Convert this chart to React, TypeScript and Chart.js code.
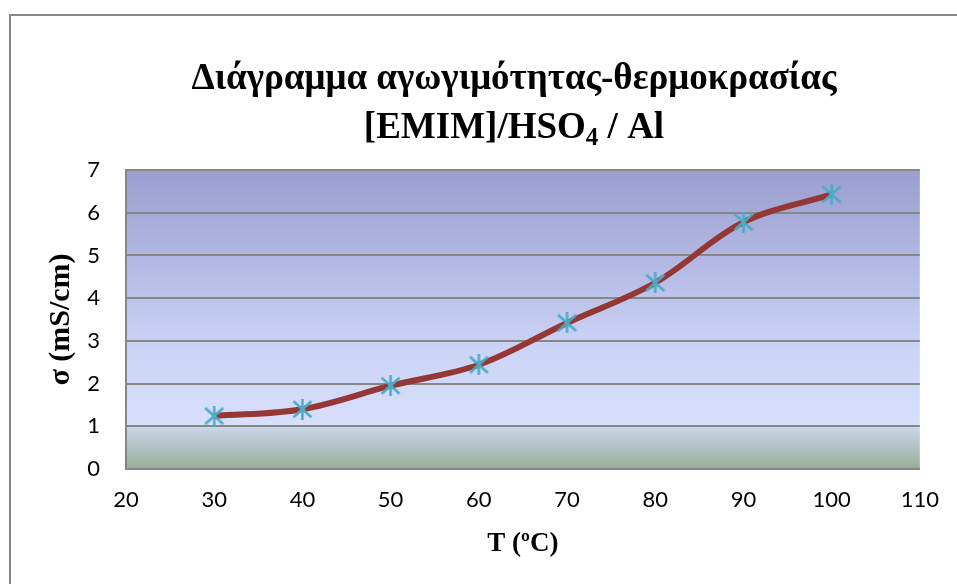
import React, { useEffect, useRef } from "react";
import { Chart, registerables } from "chart.js";

Chart.register(...registerables);

// Temperature (°C) and conductivity σ (mS/cm)
const temperatures = [30, 40, 50, 60, 70, 80, 90, 100];
const conductivity = [1.24, 1.4, 1.95, 2.44, 3.42, 4.36, 5.78, 6.43];

const titleLine1 = "Διάγραμμα αγωγιμότητας-θερμοκρασίας";
const titleLine2Parts = ["[EMIM]/HSO", "4", " / Al"];
const xAxisTitle = "T (ºC)";
const yAxisTitle = "σ (mS/cm)";

const X_MIN = 20;
const X_MAX = 110;
const X_STEP = 10;
const Y_MIN = 0;
const Y_MAX = 7;
const Y_STEP = 1;

const SERIF = "'Liberation Serif', 'Times New Roman', serif";
const SANS = "Lato, 'Open Sans', sans-serif";

// Asterisk marker: vertical bar plus an X
function makeAsterisk(color: string, size: number): HTMLCanvasElement {
  const c = document.createElement("canvas");
  c.width = size;
  c.height = size;
  const g = c.getContext("2d")!;
  g.strokeStyle = color;
  g.lineWidth = 2.5;
  g.lineCap = "butt";
  const m = size / 2;
  g.beginPath();
  g.moveTo(m, 0);
  g.lineTo(m, size);
  g.moveTo(1.5, 2.5);
  g.lineTo(size - 1.5, size - 2.5);
  g.moveTo(size - 1.5, 2.5);
  g.lineTo(1.5, size - 2.5);
  g.stroke();
  return c;
}

const framePlugin = {
  id: "frame",
  beforeDraw(chart: any) {
    const { ctx } = chart;
    ctx.save();
    ctx.strokeStyle = "#878787";
    ctx.lineWidth = 2;
    ctx.strokeRect(10, 15, 3000, 3000);
    ctx.restore();
  },
};

const plotBackgroundPlugin = {
  id: "plotBackground",
  beforeDraw(chart: any) {
    const { ctx, chartArea } = chart;
    if (!chartArea) return;
    const { left, top, right, bottom } = chartArea;
    const g = ctx.createLinearGradient(0, top, 0, bottom);
    g.addColorStop(0, "#9b9ecf");
    g.addColorStop(0.3, "#b2b8e3");
    g.addColorStop(0.6, "#ccd4f5");
    g.addColorStop(0.855, "#d7dffb");
    g.addColorStop(0.86, "#cad6ea");
    g.addColorStop(1, "#98ad96");
    ctx.save();
    ctx.fillStyle = g;
    ctx.fillRect(left, top, right - left, bottom - top);
    ctx.restore();
  },
};

const titlePlugin = {
  id: "twoLineTitle",
  afterDraw(chart: any) {
    const { ctx } = chart;
    const cx = 514;
    ctx.save();
    ctx.fillStyle = "#000";
    ctx.textBaseline = "alphabetic";
    ctx.textAlign = "left";
    const big = `bold 37px ${SERIF}`;
    const small = `bold 25px ${SERIF}`;
    ctx.font = big;
    const w1 = ctx.measureText(titleLine1).width;
    ctx.fillText(titleLine1, cx - w1 / 2, 89);

    const [a, sub, b] = titleLine2Parts;
    ctx.font = big;
    const wa = ctx.measureText(a).width;
    const wb = ctx.measureText(b).width;
    ctx.font = small;
    const ws = ctx.measureText(sub).width;
    const total = wa + ws + wb;
    let x = cx - total / 2;
    const base = 138;
    ctx.font = big;
    ctx.fillText(a, x, base);
    x += wa;
    ctx.font = small;
    ctx.fillText(sub, x, base + 7);
    x += ws;
    ctx.font = big;
    ctx.fillText(b, x, base);
    ctx.restore();
  },
};

export default function App() {
  const canvasRef = useRef<HTMLCanvasElement | null>(null);

  useEffect(() => {
    document.body.style.margin = "0";
    const canvas = canvasRef.current;
    if (!canvas) return;
    const marker = makeAsterisk("#4bacc6", 21);
    const points = temperatures.map((t, i) => ({ x: t, y: conductivity[i] }));

    const chart = new Chart(canvas, {
      type: "line",
      data: {
        datasets: [
          {
            data: points,
            borderColor: "#953735",
            borderWidth: 6,
            tension: 0.35,
            pointStyle: marker as any,
            pointRadius: 11,
            pointHoverRadius: 11,
            fill: false,
          },
        ],
      },
      options: {
        animation: false,
        responsive: false,
        events: [],
        layout: { padding: { top: 170, left: 10, right: 37, bottom: 0 } },
        plugins: {
          legend: { display: false },
          tooltip: { enabled: false },
          title: { display: false },
        },
        scales: {
          x: {
            type: "linear",
            min: X_MIN,
            max: X_MAX,
            afterFit: (scale: any) => {
              scale.height = 115;
            },
            ticks: {
              stepSize: X_STEP,
              color: "#000",
              padding: 18,
              font: { family: SANS, size: 22 },
            },
            grid: { display: false, drawTicks: false },
            border: { display: true, color: "#878787", width: 2 },
            title: {
              display: true,
              text: xAxisTitle,
              color: "#000",
              font: { family: SERIF, size: 27, weight: "bold" },
              padding: { top: 0, bottom: 24 },
            },
          },
          y: {
            min: Y_MIN,
            max: Y_MAX,
            afterFit: (scale: any) => {
              scale.width = 116;
            },
            ticks: {
              stepSize: Y_STEP,
              color: "#000",
              padding: 26,
              font: { family: SANS, size: 22 },
            },
            grid: { color: "#878787", lineWidth: 2, drawTicks: false },
            border: { display: true, color: "#878787", width: 2 },
            title: {
              display: true,
              text: yAxisTitle,
              color: "#000",
              font: { family: SERIF, size: 30, weight: "bold" },
              padding: { top: 33, bottom: 0 },
            },
          },
        },
      },
      plugins: [framePlugin, plotBackgroundPlugin, titlePlugin],
    });

    return () => chart.destroy();
  }, []);

  return (
    <div style={{ width: 957, height: 584, position: "relative" }}>
      <canvas ref={canvasRef} width={957} height={584} />
    </div>
  );
}
